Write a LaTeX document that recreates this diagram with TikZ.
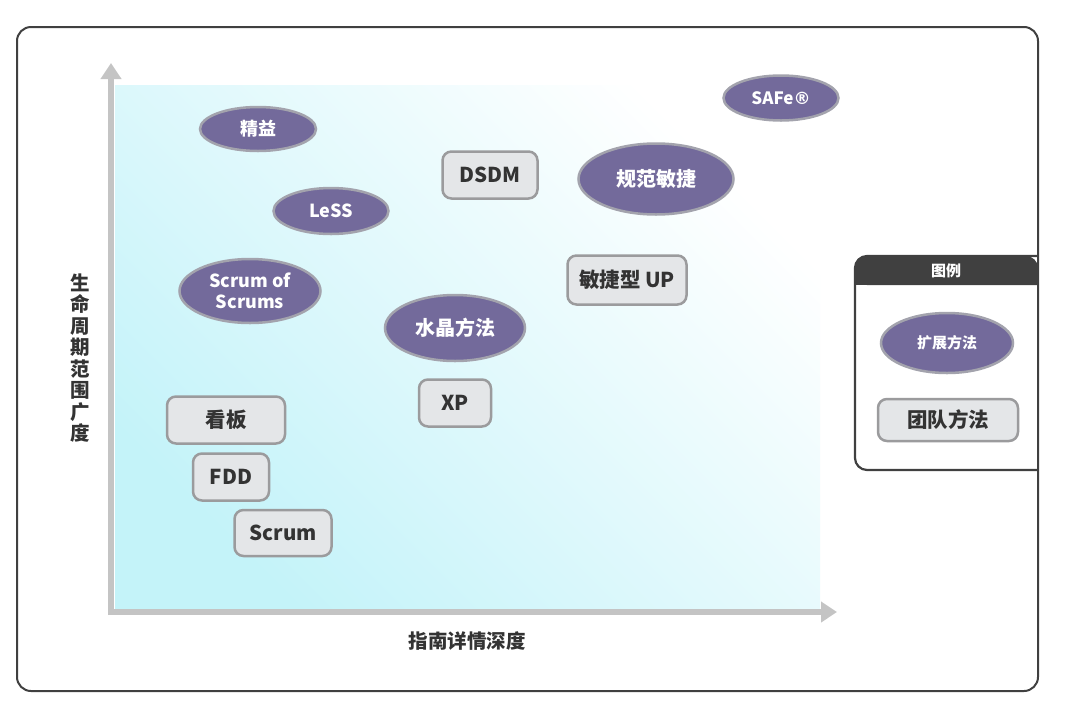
\documentclass[tikz,border=0pt]{standalone}
\usepackage{fontspec}
\setmainfont{Noto Sans CJK SC}
\newfontfamily\regfont{DejaVu Sans}
\usetikzlibrary{shapes.geometric,arrows.meta}
\definecolor{extfill}{RGB}{115,106,155}
\definecolor{extborder}{RGB}{163,163,173}
\definecolor{teamfill}{RGB}{228,230,232}
\definecolor{teamborder}{RGB}{155,155,157}
\definecolor{teamtext}{RGB}{51,51,51}
\definecolor{framec}{RGB}{64,64,64}
\definecolor{axisc}{RGB}{196,196,196}
\definecolor{cyanlo}{RGB}{196,243,249}
\definecolor{cyanmid}{RGB}{230,250,252}
\tikzset{
  ext/.style={ellipse, fill=extfill, draw=extborder, line width=2.5pt, text=white,
    font=\bfseries\fontsize{18}{21}\selectfont, inner sep=0pt, align=center},
  team/.style={rectangle, rounded corners=9pt, fill=teamfill, draw=teamborder, line width=2.5pt,
    text=teamtext, font=\bfseries\fontsize{20.5}{22}\selectfont, inner sep=0pt, align=center},
  axisarrow/.style={draw=axisc, line width=6pt, -{Triangle[width=20pt,length=16pt]}},
  axislabel/.style={text=teamtext, font=\bfseries\fontsize{19.5}{21.5}\selectfont, align=center, inner sep=0pt}
}
\begin{document}
\begin{tikzpicture}[x=1pt,y=-1pt]
\useasboundingbox[fill=white] (0,0) rectangle (1080,710);
% outer frame
\draw[framec, line width=2pt, rounded corners=14pt] (17,27) rectangle (1038,691);
% gradient area
\shade[shading=axis, bottom color=cyanlo, middle color=cyanmid, top color=white, shading angle=-45]
  (115,85) rectangle (820,610);
% axes
\coordinate (origin) at (111,612);
\coordinate (ytip) at (111,63);
\coordinate (xtip) at (837,612);
\coordinate (ybase) at (111,615);
\coordinate (xbase) at (108,612);
\draw[axisarrow] (ybase) -- (ytip);
\draw[axisarrow] (xbase) -- (xtip);
\node[axislabel] (ylab) at (80,358) {生\\命\\周\\期\\范\\围\\广\\度};
\node[axislabel] (xlab) at (467,641) {指南详情深度};
% extension methods (ellipses)
\node[ext, minimum width=116pt, minimum height=44pt] (lean) at (258,129) {精益};
\node[ext, minimum width=115pt, minimum height=46pt] (less) at (331,211) {LeSS};
\node[ext, minimum width=141pt, minimum height=64pt] (sos) at (250,291) {Scrum of\\Scrums};
\node[ext, minimum width=140pt, minimum height=66pt, font=\bfseries\fontsize{20}{22}\selectfont] (crystal) at (455,328) {水晶方法};
\node[ext, minimum width=155pt, minimum height=71pt, font=\bfseries\fontsize{20}{22}\selectfont] (da) at (656,179) {规范敏捷};
\node[ext, minimum width=115pt, minimum height=45pt, font=\bfseries\fontsize{17}{20}\selectfont] (safe) at (781,98) {SAFe{\regfont\bfseries ®}};
% team methods (rounded boxes)
\node[team, minimum width=95pt, minimum height=47pt] (dsdm) at (490,175) {DSDM};
\node[team, minimum width=119pt, minimum height=49pt] (aup) at (627,280) {敏捷型 UP};
\node[team, minimum width=72pt, minimum height=47pt] (xp) at (455,403) {XP};
\node[team, minimum width=118pt, minimum height=47pt] (kanban) at (226,420) {看板};
\node[team, minimum width=76pt, minimum height=47pt] (fdd) at (231,477) {FDD};
\node[team, minimum width=97pt, minimum height=46pt] (scrum) at (283,533) {Scrum};
% legend
\fill[white] (855,256) rectangle (1037,470);
\fill[framec, rounded corners=12pt] (1038,285) -- (855,285) -- (855,256) -- (1038,256) [sharp corners] -- cycle;
\fill[framec] (855,275) rectangle (1038,285);
\draw[framec, line width=2.2pt, rounded corners=12pt] (1038,470) -- (855,470) -- (855,256) -- (1038,256);
\node[text=white, font=\bfseries\fontsize{15}{17}\selectfont, inner sep=0pt] (legtitle) at (946,271) {图例};
\node[ext, minimum width=132pt, minimum height=60pt, font=\bfseries\fontsize{15}{17}\selectfont] (legext) at (947,343) {扩展方法};
\node[team, minimum width=140pt, minimum height=42pt] (legteam) at (948,420) {团队方法};
\end{tikzpicture}
\end{document}
